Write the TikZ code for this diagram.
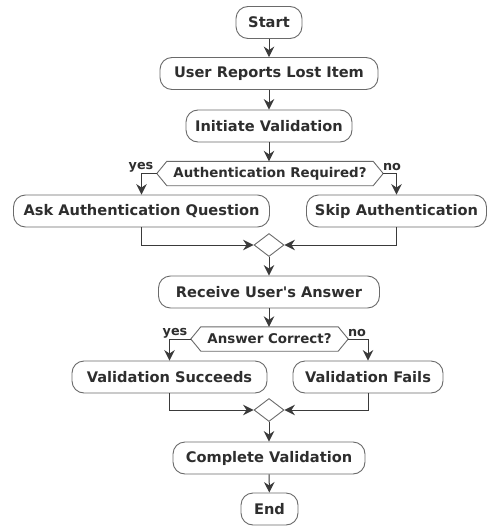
\documentclass[tikz,border=0pt]{standalone}
\usepackage{fontspec}
\setmainfont{DejaVu Sans}
\usetikzlibrary{arrows.meta,shapes.geometric}
\definecolor{txt}{HTML}{2E2E2E}
\definecolor{bord}{HTML}{6A6A6A}
\definecolor{ln}{HTML}{3A3A3A}
\tikzset{
  act/.style={draw=bord, line width=0.9pt, fill=white, rounded corners=12pt, minimum height=32pt, inner sep=0pt, text=txt, font=\fontsize{14.6}{16}\selectfont\bfseries},
  hexa/.style={inner sep=0pt, minimum height=24pt, text=txt, font=\fontsize{13.4}{15}\selectfont\bfseries},
  merge/.style={draw=bord, line width=0.9pt, fill=white, diamond, aspect=1.3, minimum width=30pt, minimum height=23pt, inner sep=0pt},
  flow/.style={draw=ln, line width=1pt, -{Stealth[length=10.5pt,width=10.5pt,inset=3.5pt]}},
  lbl/.style={text=txt, font=\fontsize{12.8}{14}\selectfont\bfseries, inner sep=0pt},
}
\newcommand{\hexdraw}[1]{%
  \draw[draw=bord, line width=0.9pt, fill=white]
    ([xshift=10pt]#1.north west) -- ([xshift=-10pt]#1.north east) -- (#1.east)
    -- ([xshift=-10pt]#1.south east) -- ([xshift=10pt]#1.south west) -- (#1.west) -- cycle;}
\begin{document}
\begin{tikzpicture}[x=1pt,y=-1pt]
\useasboundingbox (0,0) rectangle (487,527);
\node[act, minimum width=66pt] (start) at (269,22.5) {Start};
\node[act, minimum width=218pt] (report) at (269,73.5) {User Reports Lost Item};
\node[act, minimum width=166pt] (init) at (269,126) {Initiate Validation};
\node[hexa, minimum width=226pt] (auth) at (270,173.5) {};
\hexdraw{auth}
\node[hexa] at (auth) {Authentication Required?};
\node[act, minimum width=256pt] (ask) at (141.5,211) {Ask Authentication Question};
\node[act, minimum width=180pt] (skip) at (396.5,211) {Skip Authentication};
\node[merge] (m1) at (269,245) {};
\node[act, minimum width=221pt] (recv) at (269,292) {Receive User\textquotesingle s Answer};
\node[hexa, minimum width=157pt] (ans) at (269.5,339) {};
\hexdraw{ans}
\node[hexa] at (ans) {Answer Correct?};
\node[act, minimum width=195pt] (succ) at (169.5,377) {Validation Succeeds};
\node[act, minimum width=150pt] (fail) at (368,377) {Validation Fails};
\node[merge] (m2) at (269,410) {};
\node[act, minimum width=192pt] (comp) at (269,458) {Complete Validation};
\node[act, minimum width=57pt] (end) at (269.5,509) {End};

\draw[flow] (start) -- (report);
\draw[flow] (report) -- (init);
\draw[flow] (init) -- (auth.north -| init);
\draw[flow] (auth.west) -| (ask.north);
\draw[flow] (auth.east) -| (skip.north);
\draw[flow] (ask.south) |- (m1.west);
\draw[flow] (skip.south) |- (m1.east);
\draw[flow] (m1.south) -- (recv.north);
\draw[flow] (recv.south) -- (recv.south |- ans.north);
\draw[flow] (ans.west) -| (succ.north);
\draw[flow] (ans.east) -| (fail.north);
\draw[flow] (succ.south) |- (m2.west);
\draw[flow] (fail.south) |- (m2.east);
\draw[flow] (m2.south) -- (comp.north);
\draw[flow] (comp) -- (end);

\node[lbl] (yes1) at (141,167) {yes};
\node[lbl] (no1) at (392,167) {no};
\node[lbl] (yes2) at (175,333) {yes};
\node[lbl] (no2) at (357,333) {no};
\end{tikzpicture}
\end{document}
